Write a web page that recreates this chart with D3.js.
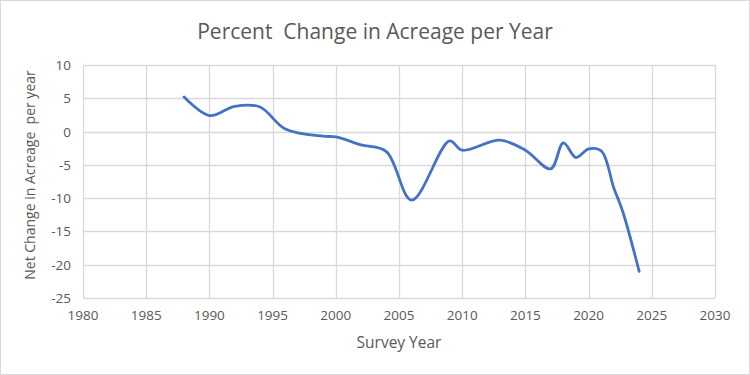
<!DOCTYPE html>
<html>
<head>
<meta charset="utf-8">
<script src="https://cdn.jsdelivr.net/npm/d3@7"></script>
<style>
  body { margin: 0; background: #fff; }
  svg text { font-family: "Open Sans", "Noto Sans", sans-serif; fill: #595959; }
</style>
</head>
<body>
<div id="chart"></div>
<script>
// survey years and net % change per year
const years = [1988, 1990, 1992, 1994, 1996, 1999, 2000, 2002, 2004, 2006, 2009, 2010, 2013, 2015, 2017, 2018, 2019, 2020, 2021, 2022, 2022.7, 2024];
const changes = [5.2, 2.4, 3.8, 3.7, 0.4, -0.7, -0.8, -2.0, -3.0, -10.3, -1.4, -2.8, -1.3, -2.8, -5.6, -1.7, -3.9, -2.6, -2.9, -8.5, -12.0, -21.0];
const xTicks = [1980, 1985, 1990, 1995, 2000, 2005, 2010, 2015, 2020, 2025, 2030];
const yTicks = [10, 5, 0, -5, -10, -15, -20, -25];

const W = 750, H = 375;
const margin = { top: 65, right: 35, bottom: 77, left: 83 };
const width = W - margin.left - margin.right;
const height = H - margin.top - margin.bottom;

const svg = d3.select("#chart").append("svg")
    .attr("width", W)
    .attr("height", H);

svg.append("rect")
    .attr("x", 0.5).attr("y", 0.5)
    .attr("width", W - 1).attr("height", H - 1)
    .attr("fill", "#fff")
    .attr("stroke", "#d9d9d9");

const chart = svg.append("g")
    .attr("transform", `translate(${margin.left},${margin.top})`);

const x = d3.scaleLinear().domain([1980, 2030]).range([0, width]);
const y = d3.scaleLinear().domain([-25, 10]).range([height, 0]);

// gridlines
chart.selectAll(".vgrid").data(xTicks)
    .join("line")
    .attr("class", "vgrid")
    .attr("x1", d => Math.round(x(d)) + 0.5).attr("x2", d => Math.round(x(d)) + 0.5)
    .attr("y1", 0).attr("y2", height)
    .attr("stroke", "#d9d9d9").attr("stroke-width", 1.3);

chart.selectAll(".hgrid").data(yTicks)
    .join("line")
    .attr("class", "hgrid")
    .attr("x1", 0).attr("x2", width)
    .attr("y1", d => Math.round(y(d)) + 0.5).attr("y2", d => Math.round(y(d)) + 0.5)
    .attr("stroke", "#d9d9d9").attr("stroke-width", 1.3);

// tick labels
chart.selectAll(".xlab").data(xTicks)
    .join("text")
    .attr("class", "xlab")
    .attr("x", d => x(d))
    .attr("y", height + 22)
    .attr("text-anchor", "middle")
    .style("font-size", "13.5px")
    .text(d => d);

chart.selectAll(".ylab").data(yTicks)
    .join("text")
    .attr("class", "ylab")
    .attr("x", -12)
    .attr("y", d => y(d) + 5)
    .attr("text-anchor", "end")
    .style("font-size", "13.5px")
    .text(d => d);

// the series
const points = years.map((yr, i) => ({ year: yr, value: changes[i] }));
const line = d3.line()
    .x(d => x(d.year))
    .y(d => y(d.value))
    .curve(d3.curveCatmullRom.alpha(0.5));

chart.append("path")
    .datum(points)
    .attr("fill", "none")
    .attr("stroke", "#4472c4")
    .attr("stroke-width", 2.8)
    .attr("stroke-linecap", "round")
    .attr("stroke-linejoin", "round")
    .attr("d", line);

// titles
svg.append("text")
    .attr("x", 375).attr("y", 39)
    .attr("text-anchor", "middle")
    .style("font-size", "21px")
    .attr("xml:space", "preserve")
    .text("Percent  Change in Acreage per Year");

svg.append("text")
    .attr("x", margin.left + width / 2).attr("y", 348)
    .attr("text-anchor", "middle")
    .style("font-size", "15.5px")
    .text("Survey Year");

svg.append("text")
    .attr("transform", `translate(35,${margin.top + 110}) rotate(-90)`)
    .attr("text-anchor", "middle")
    .style("font-size", "14px")
    .attr("xml:space", "preserve")
    .text("Net Change in Acreage  per year");
</script>
</body>
</html>
